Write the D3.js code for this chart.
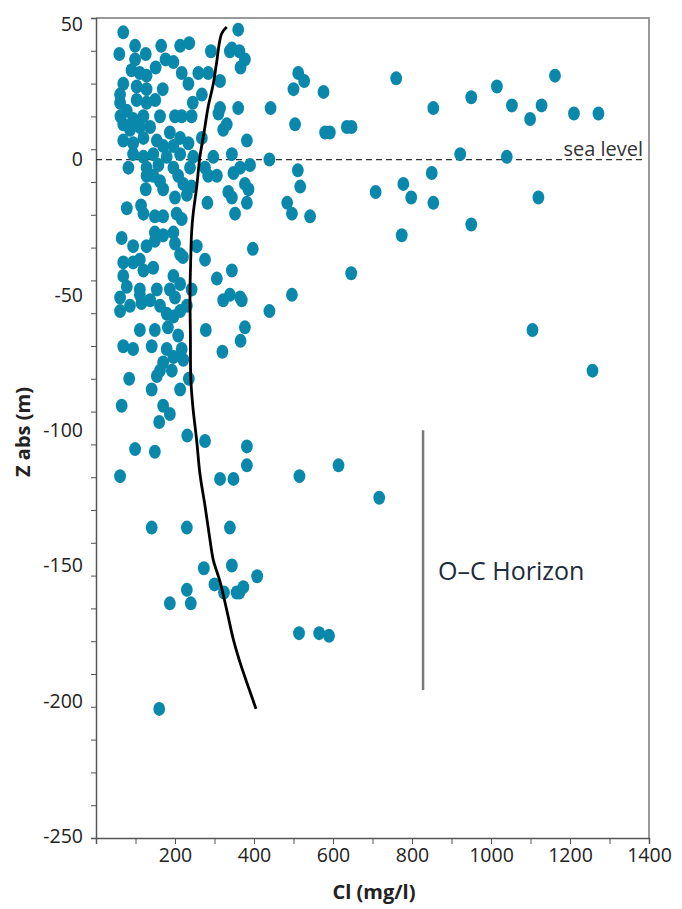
<!DOCTYPE html>
<html>
<head>
<meta charset="utf-8">
<script src="https://cdn.jsdelivr.net/npm/d3@7"></script>
<style>
  body { margin: 0; background: #fff; }
  text { font-family: "Open Sans", "Noto Sans", sans-serif; }
</style>
</head>
<body>
<div class="graph"></div>
<script>
//chloride (mg/l) of each sample
const clValues = [69,360,99,165,213,236,291,339,363,377,366,59,126,176,196,217,234,259,284,314,
  151,99,90,111,128,69,61,103,128,169,268,245,61,78,103,128,314,310,360,442,
  500,512,527,576,504,580,592,635,647,217,242,162,94,120,69,86,111,137,331,322,
  268,382,69,94,120,154,187,213,234,170,196,94,120,145,179,213,246,297,344,439,
  82,128,158,196,238,276,365,390,348,511,128,145,208,284,306,126,170,221,242,377,
  386,517,335,344,200,230,78,114,120,282,382,352,484,496,542,149,170,204,217,65,
  94,128,149,149,170,196,200,213,255,276,397,69,69,94,111,120,145,196,213,306,
  344,496,339,365,78,111,154,187,61,86,61,111,137,162,179,196,213,230,200,242,
  322,369,439,111,149,278,377,366,69,94,141,208,217,179,196,221,320,170,162,192,
  154,235,84,141,213,65,170,187,160,231,276,99,149,382,382,614,61,314,348,515,
  141,230,339,273,344,408,300,324,363,373,356,230,240,187,160,514,565,590,760,854,
  950,1015,1053,1099,1128,1162,1210,1272,922,1040,850,778,798,854,708,1120,950,774,646,1105,
  1257,717,200,220,344,62,162,150,115,182];
//depth Z abs (m) of each sample
const zValues = [47,48,42,42,42,43,40,40,40,37,34,39,39,37,36,32,28,32,32,29,
  34,37,33,32,31,28,24,27,26,26,24,21,21,18,22,21,19,17,19,19,
  26,32,29,25,13,10,10,12,12,16,16,16,15,16,13,11,12,12,13,11,
  8,7,7,6,8,7,10,8,6,5,5,2,1,2,1,2,1,1,2,0,
  -3,-3,-2,-3,-3,-3,-3,-2,-5,-4,-6,-6,-6,-6,-6,-11,-11,-9,-10,-9,
  -11,-10,-12,-14,-14,-13,-18,-17,-20,-16,-16,-20,-16,-20,-21,-21,-21,-20,-22,-29,
  -32,-32,-30,-27,-28,-27,-31,-35,-32,-37,-33,-38,-43,-38,-37,-41,-40,-43,-46,-44,
  -41,-50,-50,-51,-47,-48,-48,-48,-56,-54,-51,-50,-52,-54,-57,-58,-56,-54,-51,-48,
  -52,-52,-56,-63,-63,-63,-62,-67,-69,-70,-69,-65,-70,-70,-73,-74,-71,-75,-78,-78,
  -80,-81,-81,-85,-85,-91,-91,-94,-97,-102,-104,-107,-108,-106,-113,-113,-117,-118,-118,-117,
  -136,-136,-136,-151,-150,-154,-157,-160,-160,-158,-160,-159,-164,-164,-203,-175,-175,-176,30,19,
  23,27,20,15,20,31,17,17,2,1,-5,-9,-14,-16,-12,-14,-24,-28,-42,-63,
  -78,-125,16,-36,41,16,-8,22,-53,-62];

//trend curve
const curveCl = [331,318,305,297,284,273,263,255,246,242,240,238,239,240,245,255,263,276,289,297,314,331,348,365,386,398,405];
const curveZ = [49,46.5,35.5,28,19.5,9.5,1,-10,-20,-27,-36,-49,-65,-81,-91,-104,-116,-128,-141,-148,-156,-166.5,-177.5,-186,-195,-200,-203];

//tick labels
const xTickLabels = [200, 400, 600, 800, 1000, 1200, 1400];
const yTickLabels = [50, 0, -50, -100, -150, -200, -250];

//O-C horizon marker (Cl position, depth range)
const horizonCl = 828;
const horizonZ = [-100, -196];

const samples = clValues.map((c, i) => [c, zValues[i]]);
const curve = curveCl.map((c, i) => [c, curveZ[i]]);

const width = 682;
const height = 909;
const padLeft = 96, padRight = 649, padTop = 18, padBottom = 838;

const svg = d3.select(".graph")
  .append("svg")
  .attr("width", width)
  .attr("height", height);

//scales
const scaleX = d3.scaleLinear().domain([0, 1400]).range([padLeft, padRight]);
const scaleY = d3.scaleLinear().domain([-250.7, 52.3]).range([padBottom, padTop]);

//frame top and right
svg.append("path")
  .attr("d", `M${padLeft},${padTop}H${padRight}V${padBottom}`)
  .attr("fill", "none")
  .attr("stroke", "#9a9a9a")
  .attr("stroke-width", 2);

//x axis
const xAxis = d3.axisBottom(scaleX)
  .tickValues(d3.range(0, 1401, 100))
  .tickSize(6)
  .tickFormat(d => xTickLabels.includes(d) ? d : "");

const gx = svg.append("g")
  .attr("transform", `translate(0, ${padBottom})`)
  .call(xAxis);
gx.select(".domain").attr("stroke", "#555").attr("stroke-width", 1.5);
gx.selectAll(".tick line").attr("stroke", "#555");
gx.selectAll(".tick text")
  .attr("y", 10)
  .attr("fill", "#222")
  .style("font-size", "19.5px")
  .style("font-family", "'Open Sans', sans-serif");

//y axis: minor ticks evenly spaced, labels on their own
const yDom = scaleY.domain();
const yMinor = d3.range(0, 26).map(k => yDom[0] + k * (yDom[1] - yDom[0]) / 25);
const yAxis = d3.axisLeft(scaleY)
  .tickValues(yMinor)
  .tickSize(5)
  .tickFormat("");

const gy = svg.append("g")
  .attr("transform", `translate(${padLeft}, 0)`)
  .call(yAxis);
gy.select(".domain").attr("stroke", "#555").attr("stroke-width", 1.5);
gy.selectAll(".tick line").attr("stroke", "#555");

svg.append("g")
  .selectAll("text")
  .data(yTickLabels)
  .join("text")
  .attr("x", padLeft - 13)
  .attr("y", d => scaleY(d))
  .attr("dy", "0.35em")
  .attr("text-anchor", "end")
  .attr("fill", "#222")
  .style("font-size", "19.5px")
  .text(d => d);

//axis titles
svg.append("text")
  .attr("x", 374)
  .attr("y", 899)
  .attr("text-anchor", "middle")
  .attr("fill", "#222")
  .style("font-size", "20px")
  .style("font-weight", "bold")
  .text("Cl (mg/l)");

svg.append("text")
  .attr("transform", "translate(30, 432) rotate(-90)")
  .attr("text-anchor", "middle")
  .attr("fill", "#222")
  .style("font-size", "20px")
  .style("font-weight", "bold")
  .text("Z abs (m)");

//sea level line
svg.append("line")
  .attr("x1", padLeft)
  .attr("x2", padRight - 4)
  .attr("y1", scaleY(0))
  .attr("y2", scaleY(0))
  .attr("stroke", "#333")
  .attr("stroke-width", 1.2)
  .attr("stroke-dasharray", "6,4");

svg.append("text")
  .attr("x", padRight - 6)
  .attr("y", scaleY(0) - 4)
  .attr("text-anchor", "end")
  .attr("fill", "#333")
  .style("font-size", "20px")
  .text("sea level");

//samples
svg.append("g")
  .selectAll("ellipse")
  .data(samples)
  .join("ellipse")
  .attr("cx", d => scaleX(d[0]))
  .attr("cy", d => scaleY(d[1]))
  .attr("rx", 5.9)
  .attr("ry", 7)
  .attr("fill", "#0a88ab");

//trend line
svg.append("path")
  .datum(curve)
  .attr("fill", "none")
  .attr("stroke", "#000")
  .attr("stroke-width", 2.8)
  .attr("d", d3.line()
    .x(d => scaleX(d[0]))
    .y(d => scaleY(d[1]))
    .curve(d3.curveCatmullRom));

//O-C horizon marker
svg.append("line")
  .attr("x1", scaleX(horizonCl))
  .attr("x2", scaleX(horizonCl))
  .attr("y1", scaleY(horizonZ[0]))
  .attr("y2", scaleY(horizonZ[1]))
  .attr("stroke", "#7a7a7a")
  .attr("stroke-width", 2.5);

svg.append("text")
  .attr("x", scaleX(horizonCl) + 15)
  .attr("y", 580)
  .attr("fill", "#1d2b3a")
  .style("font-size", "25px")
  .text("O–C Horizon");
</script>
</body>
</html>
